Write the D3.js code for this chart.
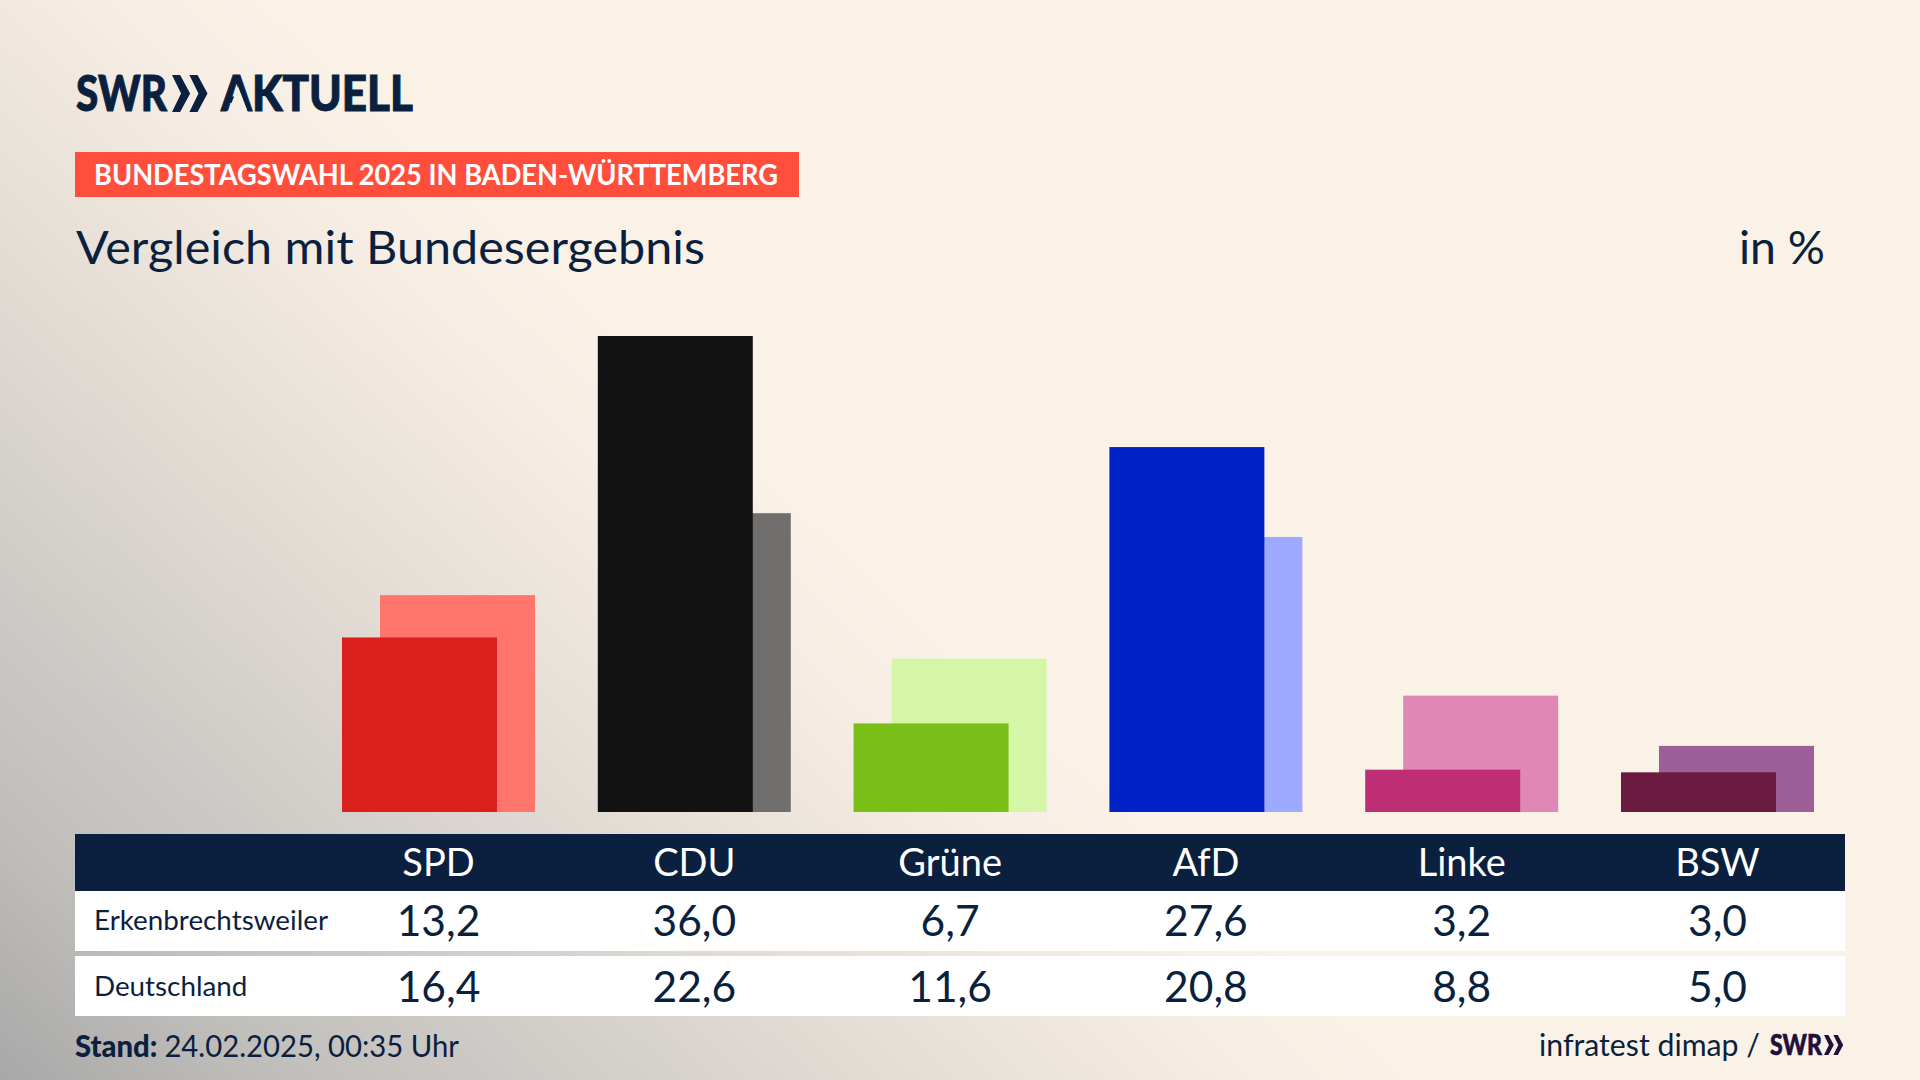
<!DOCTYPE html>
<html>
<head>
<meta charset="utf-8">
<style>
  html, body { margin: 0; padding: 0; background: #faf2e7; overflow: hidden; }
  svg { display: block; }
  text { font-family: Lato, "Noto Sans", sans-serif; fill: #0b1f3e; }
</style>
</head>
<body>
<div id="chart"></div>
<script src="https://d3js.org/d3.v7.min.js"></script>
<script>
  const parties = ["SPD", "CDU", "Grüne", "AfD", "Linke", "BSW"];
  const localValues = [13.2, 36.0, 6.7, 27.6, 3.2, 3.0];
  const nationalValues = [16.4, 22.6, 11.6, 20.8, 8.8, 5.0];
  const localColors = ["#d9201c", "#121212", "#7abf18", "#0022c8", "#bd2e75", "#6b1a40"];
  const nationalColors = ["#ff746b", "#706f6e", "#d5f5a7", "#9eaaff", "#e087b5", "#9c5f97"];
  const rowLabels = ["Erkenbrechtsweiler", "Deutschland"];

  const navy = "#0b1f3e";
  const comma = d3.format(".1f");

  const svg = d3.select("#chart").append("svg")
    .attr("width", 1920)
    .attr("height", 1080);

  // background: grey wash coming in diagonally from the bottom left
  const defs = svg.append("defs");
  const wash = defs.append("linearGradient")
    .attr("id", "wash")
    .attr("gradientUnits", "userSpaceOnUse")
    .attr("x1", 668.6).attr("y1", 369)
    .attr("x2", 0).attr("y2", 1080);
  [[0, "#faf2e7"], [0.119, "#f6eee4"], [0.194, "#f1e9df"], [0.343, "#e6dfd7"], [0.575, "#d2ceca"], [0.813, "#bfbdba"], [1, "#a8a8a8"]].forEach(s => {
    wash.append("stop").attr("offset", s[0]).attr("stop-color", s[1]);
  });
  svg.append("rect").attr("width", 1920).attr("height", 1080).attr("fill", "url(#wash)");

  // scales
  const x = d3.scaleBand().domain(parties).range([342, 1814]).paddingInner(0.2455);
  const y = d3.scaleLinear().domain([0, 36]).range([812, 336]);
  const barWidth = x.bandwidth() * 0.803;
  const center = p => x(p) + x.bandwidth() / 2;

  // national bars behind, local bars in front
  svg.append("g").selectAll("rect")
    .data(parties)
    .join("rect")
    .attr("x", d => x(d) + x.bandwidth() - barWidth)
    .attr("y", (d, i) => y(nationalValues[i]))
    .attr("width", barWidth)
    .attr("height", (d, i) => y(0) - y(nationalValues[i]))
    .attr("fill", (d, i) => nationalColors[i]);

  svg.append("g").selectAll("rect")
    .data(parties)
    .join("rect")
    .attr("x", d => x(d))
    .attr("y", (d, i) => y(localValues[i]))
    .attr("width", barWidth)
    .attr("height", (d, i) => y(0) - y(localValues[i]))
    .attr("fill", (d, i) => localColors[i]);

  // logo
  const chevrons = (g, left, top, h, fill) => {
    const w = h * 0.49;
    [0, 0.47].forEach(o => {
      const a = left + o * h;
      g.append("polygon")
        .attr("fill", fill)
        .attr("points", [[a, top], [a + w * 0.45, top], [a + w, top + h / 2], [a + w * 0.45, top + h], [a, top + h], [a + w * 0.5, top + h / 2]].join(" "));
    });
  };
  svg.append("text").attr("x", 76).attr("y", 111).attr("font-size", 50).attr("font-weight", 900)
    .attr("stroke", navy).attr("stroke-width", 1)
    .attr("textLength", 91).attr("lengthAdjust", "spacingAndGlyphs").text("SWR");
  chevrons(svg, 172, 75, 37, navy);

  // the logo's A has no crossbar, so cut it out of the glyph
  defs.append("clipPath").attr("id", "noBar").append("path")
    .attr("clip-rule", "evenodd")
    .attr("d", "M200,60H440V130H200Z M238,86L249,115H227Z");
  svg.append("text").attr("x", 221).attr("y", 111).attr("font-size", 50).attr("font-weight", 900)
    .attr("stroke", navy).attr("stroke-width", 1)
    .attr("clip-path", "url(#noBar)")
    .attr("textLength", 192).attr("lengthAdjust", "spacingAndGlyphs").text("AKTUELL");

  // badge
  svg.append("rect").attr("x", 75).attr("y", 152).attr("width", 724).attr("height", 45).attr("fill", "#ff4f3c");
  svg.append("text").attr("x", 94).attr("y", 185).attr("font-size", 29).attr("font-weight", 700)
    .style("fill", "#fff")
    .attr("textLength", 684).attr("lengthAdjust", "spacingAndGlyphs")
    .text("BUNDESTAGSWAHL 2025 IN BADEN-WÜRTTEMBERG");

  // title
  svg.append("text").attr("x", 76).attr("y", 264).attr("font-size", 46)
    .attr("textLength", 629).attr("lengthAdjust", "spacingAndGlyphs")
    .text("Vergleich mit Bundesergebnis");
  svg.append("text").attr("x", 1739).attr("y", 264).attr("font-size", 46)
    .attr("textLength", 86).attr("lengthAdjust", "spacingAndGlyphs").text("in %");

  // table
  svg.append("rect").attr("x", 75).attr("y", 834).attr("width", 1770).attr("height", 57).attr("fill", navy);
  svg.append("rect").attr("x", 75).attr("y", 891).attr("width", 1770).attr("height", 60).attr("fill", "#fff");
  svg.append("rect").attr("x", 75).attr("y", 956).attr("width", 1770).attr("height", 60).attr("fill", "#fff");

  svg.append("g").selectAll("text")
    .data(parties)
    .join("text")
    .attr("x", d => center(d))
    .attr("y", 875.5)
    .attr("text-anchor", "middle")
    .attr("font-size", 38)
    .style("fill", "#fff")
    .text(d => d);

  [localValues, nationalValues].forEach((vals, r) => {
    const base = [936, 1002][r];
    svg.append("text").attr("x", 94).attr("y", base - 6).attr("font-size", 27.8).text(rowLabels[r]);
    svg.append("g").selectAll("text")
      .data(vals)
      .join("text")
      .attr("x", (d, i) => center(parties[i]))
      .attr("y", base)
      .attr("text-anchor", "middle")
      .attr("font-size", 42.5)
      .text(d => comma(d).replace(".", ","));
  });

  // footer
  const stand = svg.append("text").attr("x", 75).attr("y", 1057).attr("font-size", 30)
    .attr("textLength", 384).attr("lengthAdjust", "spacingAndGlyphs");
  stand.append("tspan").attr("font-weight", 900).text("Stand: ");
  stand.append("tspan").text("24.02.2025, 00:35 Uhr");

  svg.append("text").attr("x", 1539).attr("y", 1056).attr("font-size", 31)
    .attr("textLength", 221).attr("lengthAdjust", "spacingAndGlyphs")
    .text("infratest dimap /");
  svg.append("text").attr("x", 1770).attr("y", 1055).attr("font-size", 28).attr("font-weight", 900)
    .attr("stroke", "#220f3c").attr("stroke-width", 0.6)
    .style("fill", "#220f3c")
    .attr("textLength", 52).attr("lengthAdjust", "spacingAndGlyphs").text("SWR");
  chevrons(svg, 1824, 1035, 20, "#220f3c");
</script>
</body>
</html>
